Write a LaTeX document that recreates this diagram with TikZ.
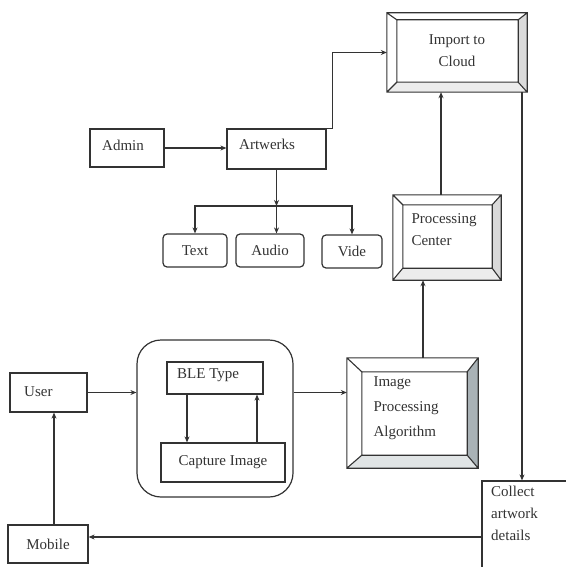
\documentclass[tikz,border=0pt]{standalone}
\usepackage{fontspec}
\setmainfont{Liberation Serif}
\usetikzlibrary{calc,arrows.meta}
\definecolor{ink}{HTML}{333333}
\newcommand\bevelframe[7]{%
 \coordinate (#1-a) at (#1.north west);
 \coordinate (#1-b) at (#1.north east);
 \coordinate (#1-c) at (#1.south east);
 \coordinate (#1-d) at (#1.south west);
 \coordinate (#1-ia) at ($(#1-a)+(#2,#3)$);
 \coordinate (#1-ib) at ($(#1-b)+(-#4,#3)$);
 \coordinate (#1-ic) at ($(#1-c)+(-#4,-#5)$);
 \coordinate (#1-id) at ($(#1-d)+(#2,-#5)$);
 \fill[#6] (#1-b) -- (#1-c) -- (#1-ic) -- (#1-ib) -- cycle;
 \fill[#7] (#1-d) -- (#1-c) -- (#1-ic) -- (#1-id) -- cycle;
 \draw[frame] (#1-a) rectangle (#1-c) (#1-ia) rectangle (#1-ic)
   (#1-a) -- (#1-ia) (#1-b) -- (#1-ib) (#1-c) -- (#1-ic) (#1-d) -- (#1-id);
}
\begin{document}
\begin{tikzpicture}[x=1pt,y=-1pt,
  every node/.style={text=ink,font=\fontsize{15}{22}\selectfont},
  frame/.style={draw=ink,line width=1.1pt},
  boxl/.style={draw=ink,line width=1.2pt,fill=white,align=left,inner sep=0pt},
  rbox/.style={draw=ink,line width=1.2pt,fill=white,rounded corners=4pt,inner sep=0pt},
  bev/.style={fill=white,inner sep=0pt},
  txt/.style={align=left,inner sep=0pt},
  arr/.style={draw=ink,line width=1.2pt,-{Stealth[length=6pt,width=5pt]}},
  con/.style={draw=ink,line width=1.2pt}]
\useasboundingbox[fill=white] (0,0) rectangle (565,567);

% beveled boxes
\node[bev,minimum width=140,minimum height=79] (imp) at (457,52.5) {};
\bevelframe{imp}{10}{7}{9}{10}{gray!28}{gray!15}
\node[txt,align=center] (impt) at (457,51) {Import to\\Cloud};

\node[bev,minimum width=108,minimum height=85] (pc) at (447,237.5) {};
\bevelframe{pc}{10}{10}{9}{12}{gray!30}{gray!15}
\node[txt] (pct) at (444,230) {Processing\\Center};

\node[bev,minimum width=131,minimum height=110] (ipa) at (412.5,413) {};
\bevelframe{ipa}{15}{14}{11}{13}{black!25!cyan!15!gray!70}{cyan!10!gray!25}
\node[txt,font=\fontsize{15}{25}\selectfont] (ipat) at (406,408) {Image\\Processing\\Algorithm};

% plain boxes
\node[boxl,minimum width=74,minimum height=38] (admin) at (127,148) {};
\node[txt,anchor=west] (admint) at (102,145) {Admin};
\node[boxl,minimum width=99,minimum height=40] (art) at (276.5,149) {};
\node[txt,anchor=west] (artt) at (239,144) {Artwerks};

\node[rbox,minimum width=64,minimum height=33] (text) at (195,250.5) {Text};
\node[rbox,minimum width=68,minimum height=33] (audio) at (270,250.5) {Audio};
\node[rbox,minimum width=60,minimum height=33] (vide) at (352,251.5) {Vide};

\node[boxl,minimum width=77,minimum height=39] (user) at (48.5,392.5) {};
\node[txt,anchor=west] (usert) at (24,392) {User};

\node[draw=ink,line width=1.2pt,rounded corners=24pt,minimum width=156,minimum height=157] (cont) at (215,418.5) {};
\node[boxl,minimum width=96,minimum height=32] (ble) at (215,378) {};
\node[txt,anchor=west] (blet) at (177,375) {BLE Type};
\node[boxl,minimum width=124,minimum height=39,align=center] (cap) at (223,462.5) {Capture Image};

\node[boxl,minimum width=80,minimum height=38,align=center] (mob) at (48,544) {Mobile};
\node[boxl,minimum width=93,minimum height=99] (col) at (528.5,530.5) {};
\node[txt,anchor=north west] (colt) at (491,486) {Collect\\artwork\\details};

% connectors
\coordinate (junc) at (276.5,206);
\draw[arr] (admin.east) -- (admin.east -| art.west);
\draw[arr] (art.north east) -- ++(6,0) |- (imp.west);
\draw[arr] (art.south) -- (junc);
\draw[arr] (junc) -| (text.north);
\draw[arr] (junc) -| (vide.north);
\draw[arr] (junc) -- (junc |- audio.north);

\draw[arr] ([xshift=10.5pt]ipa.north) -- ([xshift=10.5pt]ipa.north |- pc.south);
\draw[arr] ([xshift=-6pt]pc.north) -- ([xshift=-6pt]pc.north |- imp.south);
\draw[arr] ([xshift=65pt]imp.south) -- ([xshift=65pt]imp.south |- col.north);
\draw[arr] ([yshift=7pt]mob.east -| col.west) -- ([yshift=7pt]mob.east);
\draw[arr] ([xshift=6pt]mob.north) -- ([xshift=6pt]mob.north |- user.south);
\draw[arr] (user.east) -- (user.east -| cont.west);
\draw[arr] (user.east -| cont.east) -- (user.east -| ipa.west);
\draw[arr] ([xshift=-28pt]ble.south) -- ([xshift=-28pt]ble.south |- cap.north);
\draw[arr] ([xshift=42pt]ble.south |- cap.north) -- ([xshift=42pt]ble.south);
\end{tikzpicture}
\end{document}
